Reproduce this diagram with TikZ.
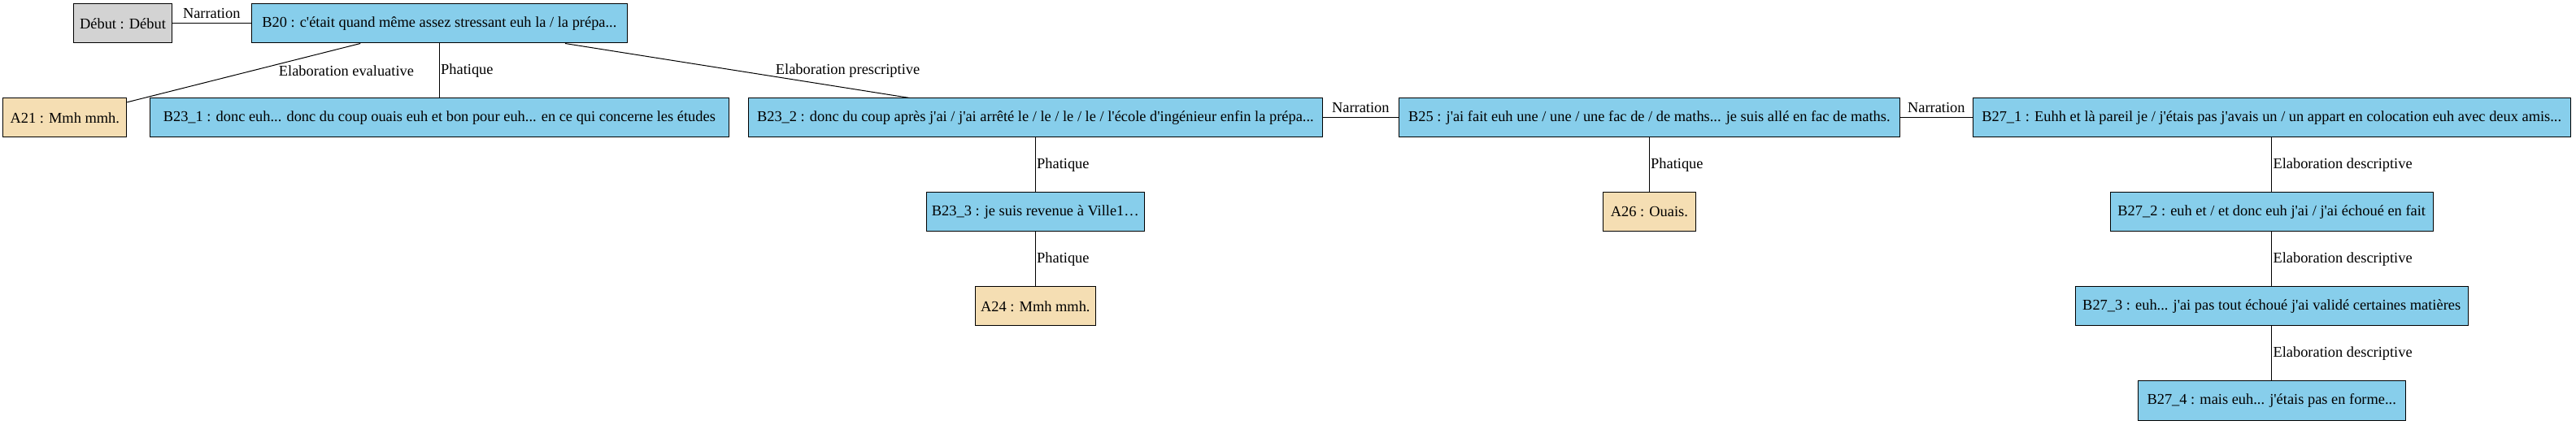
\documentclass[tikz,border=0pt]{standalone}
\usepackage{fontspec}
\setmainfont{Liberation Serif}[Ligatures=TeXOff]
\usetikzlibrary{positioning}

\definecolor{skyblue}{HTML}{87CEEB}
\definecolor{wheat}{HTML}{F5DEB3}
\definecolor{lightgrey}{HTML}{D3D3D3}

\tikzstyle{seg} = [draw, fill=skyblue, rectangle, 
    minimum height=36pt, inner xsep=2pt]
\tikzstyle{ack} = [draw, fill=wheat, rectangle, 
    minimum height=36pt, inner xsep=2pt]
\tikzstyle{start} = [draw, fill=lightgrey, rectangle, 
    minimum height=36pt, inner xsep=2pt]
\tikzstyle{rel} = [inner sep=1pt, anchor=west]
\tikzstyle{narr} = [inner sep=4pt, anchor=south]

\begin{document}
\begin{tikzpicture}[node distance=87pt, line width=0.75pt,
    font=\fontsize{13.8pt}{16pt}\selectfont]
    \useasboundingbox (-113.25pt,21.75pt) rectangle (2262.75pt,-370.5pt);
    \node [start, minimum width=90.75pt] (debut) {Début : Début};
    \node [seg, minimum width=347pt, node distance=292pt, right of=debut] (B20) {B20 : c'était quand même assez stressant euh la / la prépa...};
    \node [seg, minimum width=534pt, below of=B20] (B23_1) {B23\_1 : donc euh... donc du coup ouais euh et bon pour euh... en ce qui concerne les études};
    \node [ack, minimum width=114pt, node distance=345.4pt, left of=B23_1] (A21) {A21 : Mmh mmh.};
    \node [seg, minimum width=529.5pt, node distance=549.75pt, right of=B23_1] (B23_2) {B23\_2 : donc du coup après j'ai / j'ai arrêté le / le / le / le / l'école d'ingénieur enfin la prépa...};
    \node [seg, minimum width=462pt, node distance=566.25pt, right of=B23_2] (B25) {B25 : j'ai fait euh une / une / une fac de / de maths... je suis allé en fac de maths.};
    \node [seg, minimum width=551pt, node distance=574pt, right of=B25] (B27_1) {B27\_1 : Euhh et là pareil je / j'étais pas j'avais un / un appart en colocation euh avec deux amis...};
    \node [seg, minimum width=201pt, below of=B23_2] (B23_3) {B23\_3 : je suis revenue à Ville1…};
    \node [ack, minimum width=111pt, below of=B23_3] (A24) {A24 : Mmh mmh.};
    \node [ack, minimum width=86pt, below of=B25] (A26) {A26 : Ouais.};
    \node [seg, minimum width=298pt, below of=B27_1] (B27_2) {B27\_2 : euh et / et donc euh j'ai / j'ai échoué en fait};
    \node [seg, minimum width=362pt, below of=B27_2] (B27_3) {B27\_3 : euh... j'ai pas tout échoué j'ai validé certaines matières};
    \node [seg, minimum width=247pt, below of=B27_3] (B27_4) {B27\_4 : mais euh... j'étais pas en forme...};

    \draw (debut) -- node [narr] {Narration} (B20);
    \draw (B20) -- node [rel, xshift=31pt, yshift=2pt] {Elaboration evaluative} (A21);
    \draw (B20) -- node [rel] {Phatique} (B23_1);
    \draw (B20) -- node [rel, xshift=34pt] {Elaboration prescriptive} (B23_2);
    \draw (B23_2) -- node [narr] {Narration} (B25);
    \draw (B25) -- node [narr] {Narration} (B27_1);
    \draw (B23_2) -- node [rel] {Phatique} (B23_3);
    \draw (B23_3) -- node [rel] {Phatique} (A24);
    \draw (B25) -- node [rel] {Phatique} (A26);
    \draw (B27_1) -- node [rel] {Elaboration descriptive} (B27_2);
    \draw (B27_2) -- node [rel] {Elaboration descriptive} (B27_3);
    \draw (B27_3) -- node [rel] {Elaboration descriptive} (B27_4);
\end{tikzpicture}
\end{document}
